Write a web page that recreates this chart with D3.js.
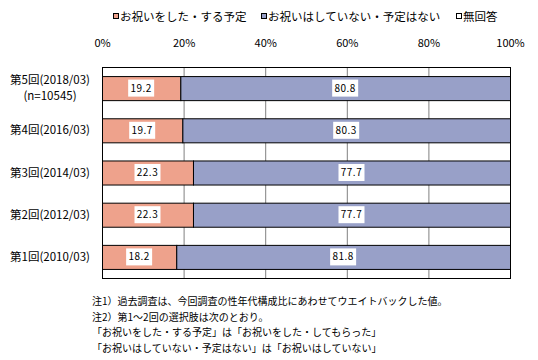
<!DOCTYPE html>
<html><head><meta charset="utf-8">
<script src="https://cdn.jsdelivr.net/npm/d3@7"></script>
<style>
body{margin:0;background:#fff;}
text{font-family:"Noto Sans CJK JP","Noto Sans",sans-serif;fill:#000;}
</style></head>
<body><svg id="c" width="538" height="360"></svg>
<script>
const categories = ["第5回(2018/03)|(n=10545)", "第4回(2016/03)", "第3回(2014/03)", "第2回(2012/03)", "第1回(2010/03)"];
const seriesNames = ["お祝いをした・する予定", "お祝いはしていない・予定はない", "無回答"];
const celebrated = [19.2, 19.7, 22.3, 22.3, 18.2];
const notCelebrated = [80.8, 80.3, 77.7, 77.7, 81.8];
const noAnswer = [0, 0, 0, 0, 0];
const tickValues = [0, 20, 40, 60, 80, 100];
const notes = [
  "注1）過去調査は、今回調査の性年代構成比にあわせてウエイトバックした値。",
  "注2）第1～2回の選択肢は次のとおり。",
  "「お祝いをした・する予定」は「お祝いをした・してもらった」",
  "「お祝いはしていない・予定はない」は「お祝いはしていない」"
];
const colors = ["#EEA28C", "#98A0C8", "#FFFFFF"];

const svg = d3.select("#c");
const L = 102, R = 510, T = 67, B = 278;
const x = d3.scaleLinear().domain([0, 100]).range([L, R]);
const y = d3.scaleBand().domain(categories).range([T, B]).paddingInner(0.43).paddingOuter(0.215);

// gridlines
svg.append("g").selectAll("line").data(tickValues.slice(1, -1)).join("line")
  .attr("x1", d => x(d) + 0.5).attr("x2", d => x(d) + 0.5)
  .attr("y1", T).attr("y2", B).attr("stroke", "#808080").attr("stroke-width", 1);

// axis labels
const ax = d3.axisTop(x).tickValues(tickValues).tickFormat(d => d + "%").tickSize(0);
const axg = svg.append("g").attr("transform", `translate(0,${T - 17})`).call(ax);
axg.select(".domain").remove();
axg.selectAll("text").attr("font-size", 11).attr("font-family", '"Noto Sans CJK JP",sans-serif').attr("fill", "#000");

// stacks
const data = categories.map((c, i) => ({cat: c, s0: celebrated[i], s1: notCelebrated[i], s2: noAnswer[i]}));
const stack = d3.stack().keys(["s0", "s1", "s2"])(data);
stack.forEach((layer, k) => {
  svg.append("g").selectAll("rect").data(layer.filter(d => d[1] - d[0] > 0)).join("rect")
    .attr("x", d => x(d[0]) + 0.5).attr("y", d => y(d.data.cat) + 0.5)
    .attr("width", d => x(d[1]) - x(d[0])).attr("height", y.bandwidth())
    .attr("fill", colors[k]).attr("stroke", "#000").attr("stroke-width", 1);
});

// value labels
stack.slice(0, 2).forEach(layer => {
  const g = svg.append("g").selectAll("g").data(layer).join("g")
    .attr("transform", d => `translate(${(x(d[0]) + x(d[1])) / 2},${y(d.data.cat) + y.bandwidth() / 2})`);
  g.append("rect").attr("x", -13).attr("y", -8.5).attr("width", 26).attr("height", 17).attr("fill", "#fff");
  g.append("text").attr("text-anchor", "middle").attr("dy", "0.35em").attr("font-size", 10)
    .attr("letter-spacing", "0.5px").text(d => (d[1] - d[0]).toFixed(1));
});

// plot border
svg.append("rect").attr("x", L + 0.5).attr("y", T + 0.5).attr("width", R - L).attr("height", B - T)
  .attr("fill", "none").attr("stroke", "#000").attr("stroke-width", 1);

// category labels
categories.forEach(c => {
  const parts = c.split("|");
  const cy = y(c) + y.bandwidth() / 2;
  const sp = 16;
  parts.forEach((p, i) => {
    svg.append("text").attr("text-anchor", "middle").attr("font-size", 11.5)
      .attr("x", 50).attr("y", cy + 4 + (i - (parts.length - 1) / 2) * sp).text(p);
  });
});

// legend
const legX = [113, 261, 456];
seriesNames.forEach((n, i) => {
  svg.append("rect").attr("x", legX[i] + 0.5).attr("y", 13.5).attr("width", 5).attr("height", 5)
    .attr("fill", colors[i]).attr("stroke", "#000");
  svg.append("text").attr("x", legX[i] + 7).attr("y", 20.5).attr("font-size", 11.5).text(n);
});

// notes
notes.forEach((n, i) => {
  svg.append("text").attr("x", 92).attr("y", 305 + i * 15.5).attr("font-size", 10).text(n);
});
</script></body></html>
